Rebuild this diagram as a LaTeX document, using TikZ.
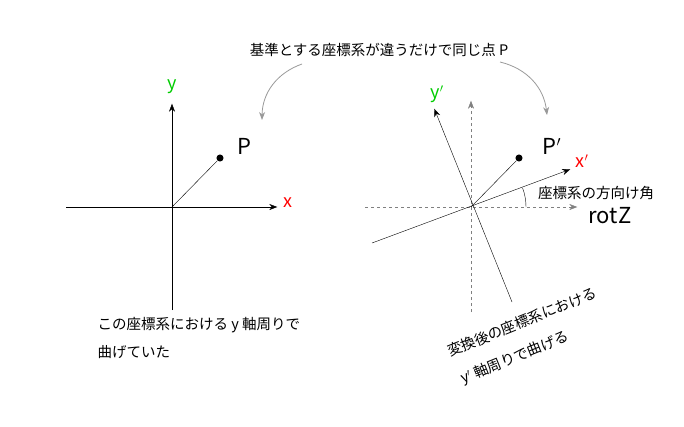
\documentclass[tikz,border=0pt]{standalone}
\usepackage{fontspec}
\setmainfont{Noto Sans CJK JP}
\usetikzlibrary{arrows.meta}
\begin{document}
\begin{tikzpicture}[x=1pt,y=-1pt,
  ax/.style={-{Stealth[length=8pt,width=6pt]}},
  gx/.style={-{Stealth[length=8pt,width=6pt]},gray,dashed},
  cv/.style={-{Stealth[length=8pt,width=6pt]},gray!80,thick},
  small/.style={font=\fontsize{14.5}{16}\selectfont}]
\useasboundingbox (0,0) rectangle (684,426);
% left
\coordinate (O) at (172,207);
\coordinate (xl) at (66,207);
\coordinate (yb) at (172,310);
\node[inner sep=0] (xe) at (278,207) {};
\node[inner sep=0] (ye) at (172,103) {};
\draw[ax] (xl) -- (xe);
\draw[ax] (yb) -- (ye);
\node[text=red,font=\fontsize{18}{20}\selectfont] (xlab) at (288,203) {x};
\node[text=green!80!black,font=\fontsize{18}{20}\selectfont] (ylab) at (172,87) {y};
\node[circle,fill,inner sep=2.5pt] (P) at (220,158) {};
\draw (O) -- (P);
\node[font=\fontsize{22}{24}\selectfont] (Pl) at (244,146) {P};
% right
\coordinate (O2) at (471,207);
\coordinate (hl) at (365,207);
\node[inner sep=0] (hr) at (578,207) {};
\coordinate (vb) at (471,312);
\node[inner sep=0] (vt) at (471,100) {};
\draw[gx] (hl) -- (hr);
\draw[gx] (vb) -- (vt);
\coordinate (xs) at (372,243);
\node[inner sep=0] (xe2) at (571,169) {};
\coordinate (ys) at (512,302);
\node[inner sep=0] (ye2) at (434,108) {};
\draw[ax] (xs) -- (xe2);
\draw[ax] (ys) -- (ye2);
\node[text=red,font=\fontsize{18}{20}\selectfont] (xlab2) at (582,161) {x$'$};
\node[text=green!80!black,font=\fontsize{18}{20}\selectfont] (ylab2) at (437,94) {y$'$};
\node[circle,fill,inner sep=2.5pt] (P2) at (519,158) {};
\draw (O2) -- (P2);
\node[font=\fontsize{22}{24}\selectfont] (Pl2) at (552,146) {P$'$};
\draw (O2) ++(0:55) arc[start angle=0,end angle=-20.4,radius=55];
\node[small] (ang) at (596,193) {座標系の方向け角};
\node[font=\fontsize{22}{24}\selectfont] (rot) at (610,216) {rotZ};
% top
\node[small] (top) at (379,50) {基準とする座標系が違うだけで同じ点 P};
\draw[cv] (302,64) to[bend right=35] (262,120);
\draw[cv] (500,62) to[bend left=35] (547,115);
% bottom left
\node[small,anchor=west] (b1) at (94,325) {この座標系における y 軸周りで};
\node[small,anchor=west] (b2) at (94,352) {曲げていた};
% bottom right
\node[small,rotate=22] (r1) at (522,322) {変換後の座標系における};
\node[small,rotate=22] (r2) at (515,358) {y$'$ 軸周りで曲げる};
\end{tikzpicture}
\end{document}
